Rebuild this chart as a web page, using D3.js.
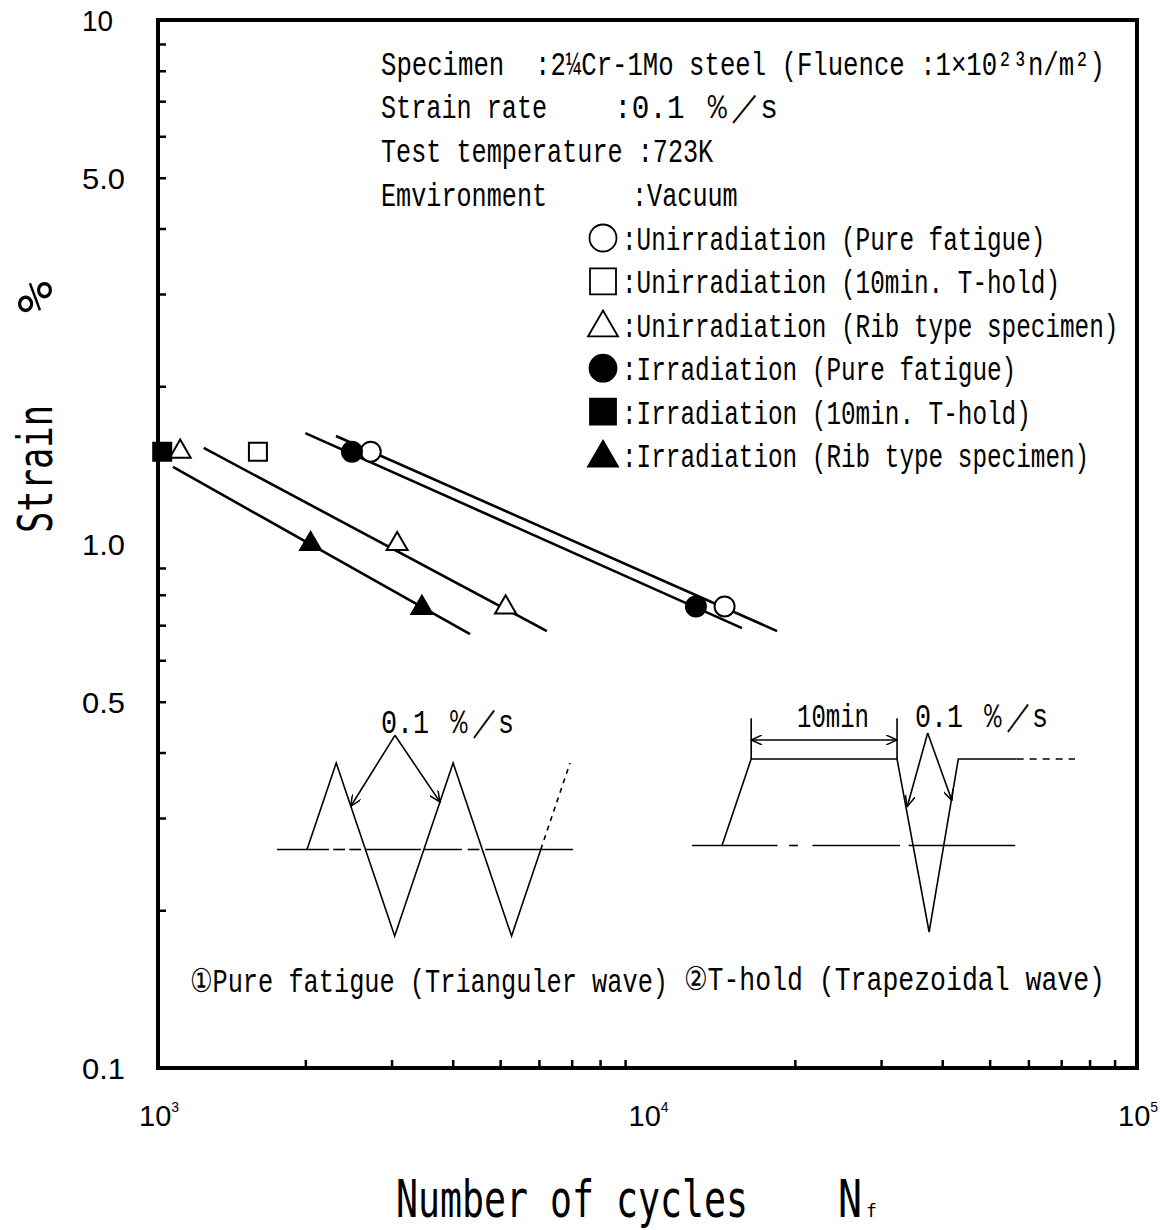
<!DOCTYPE html>
<html>
<head>
<meta charset="utf-8">
<script src="https://cdn.jsdelivr.net/npm/d3@7"></script>
<style>
  html, body { margin: 0; padding: 0; background: #fff; }
  svg { display: block; }
  text { white-space: pre; }
</style>
</head>
<body>
<script>
// ---------------- DATA ----------------
const xTickValues = [1e3, 1e4, 1e5];
const xTickExponents = ["3", "4", "5"];
const xMinorTicks = [2e3, 3e3, 4e3, 5e3, 6e3, 7e3, 8e3, 9e3, 2e4, 3e4, 4e4, 5e4, 6e4, 7e4, 8e4, 9e4];
const yTickValues = [0.1, 0.5, 1, 5, 10];
const yTickLabels = ["0.1", "0.5", "1.0", "5.0", "10"];
const yMinorTicks = [0.2, 0.3, 0.4, 0.5, 0.6, 0.7, 0.8, 0.9, 2, 3, 4, 5, 6, 7, 8, 9];

// Data points (cycles to failure, strain %)
const unirrPureN = [2720, 14370];
const unirrPureS = [1.5, 0.76];
const unirrHoldN = [1600];
const unirrHoldS = [1.5];
const unirrRibN = [1110, 3080, 5130];
const unirrRibS = [1.5, 1.0, 0.757];
const irrPureN = [2490, 12560];
const irrPureS = [1.5, 0.76];
const irrHoldN = [1020];
const irrHoldS = [1.5];
const irrRibN = [2050, 3460];
const irrRibS = [1.0, 0.755];

// Fitted lines (endpoints)
const fitIrrPureN = [2000, 15600];
const fitIrrPureS = [1.628, 0.691];
const fitUnirrPureN = [2310, 18400];
const fitUnirrPureS = [1.607, 0.682];
const fitUnirrRibN = [1240, 6230];
const fitUnirrRibS = [1.525, 0.682];
const fitIrrRibN = [1073, 4340];
const fitIrrRibS = [1.403, 0.673];

const headerLines = [
  "Specimen  :2¼Cr-1Mo steel (Fluence :1×10²³n/m²)",
  "Strain rate", ":0.1 ％／s",
  "Test temperature :723K",
  "Emvironment", ":Vacuum"
];
const legendLabels = [
  ":Unirradiation (Pure fatigue)",
  ":Unirradiation (10min. T-hold)",
  ":Unirradiation (Rib type specimen)",
  ":Irradiation (Pure fatigue)",
  ":Irradiation (10min. T-hold)",
  ":Irradiation (Rib type specimen)"
];
const legendShapes = ["circle", "square", "triangle", "circle", "square", "triangle"];
const legendFilled = [false, false, false, true, true, true];

// Schematic waveforms (time units, normalised strain)
const triWaveT = [0, 1, 3, 5, 7, 8];
const triWaveS = [0, 1, -1, 1, -1, 0];
const triWaveDottedT = [8, 9];
const triWaveDottedS = [0, 1];
const trapWaveT = [0, 1, 6, 7.1, 8.1, 10.1];
const trapWaveS = [0, 1, 1, -1, 1, 1];
const trapWaveDottedT = [10.1, 12.1];
const trapWaveDottedS = [1, 1];

// ---------------- LAYOUT ----------------
const W = 1160, H = 1230;
const L = 158, R = 1137, T = 20, B = 1068;
const monoFont = "'Liberation Mono', 'DejaVu Sans Mono', monospace";
const sansMono = "'DejaVu Sans Mono', 'Liberation Mono', monospace";

const svg = d3.select("body").append("svg").attr("width", W).attr("height", H);

const x = d3.scaleLog().domain([1e3, 1e5]).range([L, R]);
const y = d3.scaleLog().domain([0.1, 10]).range([B, T]);

// Frame
svg.append("rect").attr("x", L).attr("y", T).attr("width", R - L).attr("height", B - T)
  .attr("fill", "none").attr("stroke", "#000").attr("stroke-width", 4);

// Minor ticks (inward)
const gx = svg.append("g").attr("transform", `translate(0,${B})`)
  .call(d3.axisBottom(x).tickValues(xMinorTicks).tickSize(-8).tickFormat(""));
const gy = svg.append("g").attr("transform", `translate(${L},0)`)
  .call(d3.axisLeft(y).tickValues(yMinorTicks).tickSize(-8).tickFormat(""));
[gx, gy].forEach(g => {
  g.select(".domain").remove();
  g.selectAll(".tick line").attr("stroke", "#000").attr("stroke-width", 2.5);
});

// Y tick labels
svg.append("g").selectAll("text").data(yTickValues).join("text")
  .attr("x", 82).attr("y", d => y(d) + 11)
  .attr("font-family", "'Liberation Sans', Arial, sans-serif")
  .attr("font-size", 30)
  .attr("textLength", (d, i) => yTickLabels[i].length === 3 ? 43 : 31)
  .attr("lengthAdjust", "spacingAndGlyphs")
  .text((d, i) => yTickLabels[i]);

// X tick labels
const xl = svg.append("g").selectAll("text").data(xTickValues).join("text")
  .attr("x", d => x(d) - 19).attr("y", 1126)
  .attr("font-family", "'Liberation Sans', Arial, sans-serif")
  .attr("font-size", 29);
xl.append("tspan").text("10");
xl.append("tspan").attr("font-size", 14).attr("dy", -14).text((d, i) => xTickExponents[i]);

// Stretched-text helper: natural width ~ target, taller by vertical scale
function stext(g, str, xx, yy, len, size, sy, family, rot) {
  return g.append("text")
    .attr("transform", `translate(${xx},${yy})${rot ? " rotate(" + rot + ")" : ""} scale(1,${sy})`)
    .attr("x", 0).attr("y", 0)
    .attr("font-family", family).attr("font-size", size)
    .attr("textLength", len).attr("lengthAdjust", "spacingAndGlyphs")
    .text(str);
}

// Axis titles
const tg0 = svg.append("g");
stext(tg0, "Strain", 52, 533, 128, 35, 1.35, sansMono, -90);
stext(tg0, "%", 52, 313, 32, 44, 1.1, sansMono, -90);
stext(tg0, "Number of cycles", 396, 1217, 352, 36, 1.42, sansMono);
stext(tg0, "N", 838, 1217, 24, 36, 1.42, sansMono);
tg0.append("text").attr("x", 866).attr("y", 1217)
  .attr("font-family", sansMono).attr("font-size", 18).text("f");

// Fit lines
const line = d3.line().x(d => x(d[0])).y(d => y(d[1]));
const fits = [
  [fitIrrPureN, fitIrrPureS],
  [fitUnirrPureN, fitUnirrPureS],
  [fitUnirrRibN, fitUnirrRibS],
  [fitIrrRibN, fitIrrRibS]
];
svg.append("g").selectAll("path").data(fits).join("path")
  .attr("d", f => line(d3.zip(f[0], f[1])))
  .attr("fill", "none").attr("stroke", "#000").attr("stroke-width", 2.6);

// Markers
function symbolFor(shape, size) {
  const type = shape === "circle" ? d3.symbolCircle : shape === "square" ? d3.symbolSquare : d3.symbolTriangle;
  return d3.symbol().type(type).size(size)();
}
const plotSizes = { circle: Math.PI * 100, square: 18 * 18, triangle: 21 * 21 * Math.sqrt(3) / 4 };
const seriesPts = [
  [unirrPureN, unirrPureS, "circle", false],
  [unirrHoldN, unirrHoldS, "square", false],
  [unirrRibN, unirrRibS, "triangle", false],
  [irrPureN, irrPureS, "circle", true],
  [irrHoldN, irrHoldS, "square", true],
  [irrRibN, irrRibS, "triangle", true]
];
seriesPts.forEach(([ns, ss, shape, filled]) => {
  svg.append("g").selectAll("path").data(d3.zip(ns, ss)).join("path")
    .attr("transform", d => `translate(${x(d[0])},${y(d[1])})`)
    .attr("d", symbolFor(shape, plotSizes[shape]))
    .attr("fill", filled ? "#000" : "#fff")
    .attr("stroke", "#000").attr("stroke-width", 2);
});

// Mincho-like text: monospace, narrow and tall
function mono(g, str, xx, yy, len) {
  return stext(g, str, xx, yy, len, 25, 1.32, monoFont);
}
const cw = 15.1;
const hg = svg.append("g");
mono(hg, headerLines[0], 381, 75, 724);
mono(hg, headerLines[1], 381, 118, headerLines[1].length * cw);
mono(hg, headerLines[2], 614, 118, 164);
mono(hg, headerLines[3], 381, 162, headerLines[3].length * cw);
mono(hg, headerLines[4], 381, 206, headerLines[4].length * cw);
mono(hg, headerLines[5], 632, 206, headerLines[5].length * cw);

// Legend
const legendSizes = { circle: Math.PI * 13.5 * 13.5, square: 26 * 26, triangle: 30 * 30 * Math.sqrt(3) / 4 };
const lg = svg.append("g");
legendLabels.forEach((lab, i) => {
  const cy = 238 + i * 43.4;
  lg.append("path")
    .attr("transform", `translate(603,${cy + (legendShapes[i] === "triangle" ? 3 : 0)})`)
    .attr("d", symbolFor(legendShapes[i], legendSizes[legendShapes[i]]))
    .attr("fill", legendFilled[i] ? "#000" : "#fff")
    .attr("stroke", "#000").attr("stroke-width", 1.8);
  mono(lg, lab, 622, cy + 12, lab.length * 14.6);
});

// ---------------- Schematic insets ----------------
const insetStroke = 1.6;
const defs = svg.append("defs");
defs.append("marker").attr("id", "ah").attr("viewBox", "0 0 12 10")
  .attr("refX", 11).attr("refY", 5).attr("markerWidth", 12).attr("markerHeight", 10)
  .attr("markerUnits", "userSpaceOnUse").attr("orient", "auto-start-reverse")
  .append("path").attr("d", "M0,0 L11,5 L0,10").attr("fill", "none").attr("stroke", "#000").attr("stroke-width", 1.5);

// Inset 1: triangular wave
const t1 = d3.scaleLinear().domain([0, 9]).range([307, 570]);
const s1 = d3.scaleLinear().domain([-1, 1]).range([936, 763]);
const ig1 = svg.append("g").attr("stroke", "#000").attr("fill", "none").attr("stroke-width", insetStroke);
const baseSeg1 = [[-1.03, 0.75], [0.9, 1.3], [1.45, 1.85], [2.0, 3.9], [4.0, 5.3], [5.5, 5.9], [6.1, 9.1]];
baseSeg1.forEach(s => ig1.append("line").attr("x1", t1(s[0])).attr("x2", t1(s[1])).attr("y1", s1(0)).attr("y2", s1(0)));
const l1 = d3.line().x(d => t1(d[0])).y(d => s1(d[1]));
ig1.append("path").attr("d", l1(d3.zip(triWaveT, triWaveS)));
ig1.append("path").attr("d", l1(d3.zip(triWaveDottedT, triWaveDottedS))).attr("stroke-dasharray", "5,5");
ig1.append("line").attr("x1", t1(3.01)).attr("y1", s1(1.32)).attr("x2", t1(1.5)).attr("y2", s1(0.5)).attr("marker-end", "url(#ah)");
ig1.append("line").attr("x1", t1(3.01)).attr("y1", s1(1.32)).attr("x2", t1(4.55)).attr("y2", s1(0.55)).attr("marker-end", "url(#ah)");
const tg = svg.append("g");
mono(tg, "0.1 ％／s", 381, 733, 133);
mono(tg, "①Pure fatigue (Trianguler wave)", 190, 992, 478);

// Inset 2: trapezoidal wave
const t2 = d3.scaleLinear().domain([0, 12.1]).range([722, 1075]);
const s2 = d3.scaleLinear().domain([-1, 1]).range([932, 759]);
const ig2 = svg.append("g").attr("stroke", "#000").attr("fill", "none").attr("stroke-width", insetStroke);
const baseSeg2 = [[-1.03, 1.9], [2.3, 2.6], [3.1, 6.1], [6.4, 10.05]];
baseSeg2.forEach(s => ig2.append("line").attr("x1", t2(s[0])).attr("x2", t2(s[1])).attr("y1", s2(0)).attr("y2", s2(0)));
const l2 = d3.line().x(d => t2(d[0])).y(d => s2(d[1]));
ig2.append("path").attr("d", l2(d3.zip(trapWaveT, trapWaveS)));
ig2.append("path").attr("d", l2(d3.zip(trapWaveDottedT, trapWaveDottedS))).attr("stroke-dasharray", "7,6");
[1, 6].forEach(t => ig2.append("line").attr("x1", t2(t)).attr("x2", t2(t)).attr("y1", s2(1)).attr("y2", s2(1.47)));
ig2.append("line").attr("x1", t2(1)).attr("x2", t2(6)).attr("y1", s2(1.22)).attr("y2", s2(1.22))
  .attr("marker-start", "url(#ah)").attr("marker-end", "url(#ah)");
ig2.append("line").attr("x1", t2(7.05)).attr("y1", s2(1.3)).attr("x2", t2(6.35)).attr("y2", s2(0.45)).attr("marker-end", "url(#ah)");
ig2.append("line").attr("x1", t2(7.05)).attr("y1", s2(1.3)).attr("x2", t2(7.88)).attr("y2", s2(0.52)).attr("marker-end", "url(#ah)");
mono(tg, "10min", 797, 727, 72);
mono(tg, "0.1 ％／s", 915, 727, 133);
mono(tg, "②T-hold (Trapezoidal wave)", 684, 990, 421);
</script>
</body>
</html>
